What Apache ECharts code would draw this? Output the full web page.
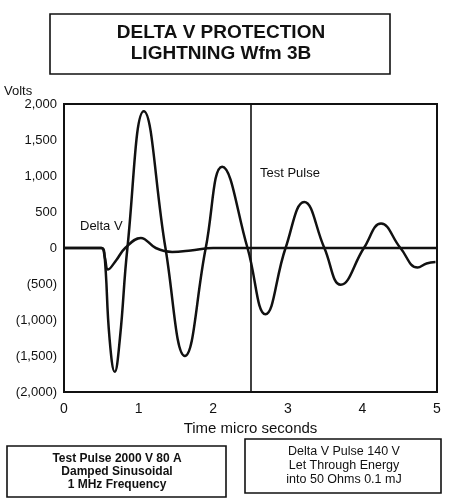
<!DOCTYPE html>
<html>
<head>
<meta charset="utf-8">
<script src="https://cdn.jsdelivr.net/npm/echarts@6/dist/echarts.min.js"></script>
<style>
  html, body { margin: 0; padding: 0; background: #fff; }
  #chart { width: 449px; height: 501px; }
</style>
</head>
<body>
<div id="chart"></div>
<script>
// test pulse trace, time in micro seconds / volts
const pulseTime = [0, 0.50, 0.54, 0.61, 0.68, 0.75, 0.85, 1.07, 1.36, 1.62, 1.90, 2.12, 2.46, 2.70, 2.97, 3.22, 3.49, 3.71, 4.02, 4.25, 4.51, 4.74, 4.86, 4.98];
const pulseVolts = [0, 0, -60, -1250, -1720, -1250, 0, 1900, 0, -1500, 0, 1130, 0, -920, 0, 640, 0, -510, 0, 340, 0, -270, -215, -195];

// delta V trace
const deltaTime = [0, 0.50, 0.545, 0.59, 0.70, 0.82, 1.03, 1.23, 1.45, 1.70, 2.00, 2.50, 5.0];
const deltaVolts = [0, 0, -120, -300, -170, 0, 140, 0, -55, -35, 0, 0, 0];

const yTickLabels = ['(2,000)', '(1,500)', '(1,000)', '(500)', '0', '500', '1,000', '1,500', '2,000'];
const xTickLabels = ['0', '1', '2', '3', '4', '5'];

const font = '"Liberation Sans", Arial, sans-serif';
const ink = '#111';

const chart = echarts.init(document.getElementById('chart'));

const option = {
  backgroundColor: '#fff',
  animation: false,
  grid: {
    left: 64, right: 12, top: 104, bottom: 109,
    show: true, borderColor: ink, borderWidth: 2, backgroundColor: 'transparent'
  },
  xAxis: {
    type: 'value', min: 0, max: 5, interval: 1,
    name: 'Time micro seconds', nameLocation: 'middle', nameGap: 28,
    nameTextStyle: { color: ink, fontFamily: font, fontSize: 15 },
    axisLine: { show: false }, axisTick: { show: false }, splitLine: { show: false },
    axisLabel: {
      color: ink, fontFamily: font, fontSize: 14, margin: 10,
      formatter: v => xTickLabels[Math.round(v)]
    }
  },
  yAxis: {
    type: 'value', min: -2000, max: 2000, interval: 500,
    name: 'Volts', nameLocation: 'end', nameGap: 3,
    nameTextStyle: { color: ink, fontFamily: font, fontSize: 13, align: 'left', padding: [0, 0, 0, -60] },
    axisLine: { show: false }, axisTick: { show: false }, splitLine: { show: false },
    axisLabel: {
      color: ink, fontFamily: font, fontSize: 13, margin: 7,
      formatter: v => yTickLabels[Math.round((v + 2000) / 500)]
    }
  },
  series: [
    {
      name: 'Test Pulse', type: 'line', showSymbol: false,
      smooth: 0.45,
      lineStyle: { color: ink, width: 2.5 },
      data: pulseTime.map((t, i) => [t, pulseVolts[i]]),
      markLine: {
        silent: true, symbol: 'none', label: { show: false },
        lineStyle: { color: ink, width: 1.6, type: 'solid' },
        data: [{ xAxis: 2.5 }]
      }
    },
    {
      name: 'Delta V', type: 'line', showSymbol: false,
      smooth: 0.4,
      lineStyle: { color: ink, width: 2.5 },
      data: deltaTime.map((t, i) => [t, deltaVolts[i]])
    }
  ],
  graphic: [
    { type: 'rect', shape: { x: 50, y: 14, width: 340, height: 60 },
      style: { fill: 'none', stroke: ink, lineWidth: 1.6 } },
    { type: 'text', x: 221, y: 33,
      style: { text: 'DELTA V PROTECTION', font: 'bold 19px ' + font, fill: ink, align: 'center', verticalAlign: 'middle' } },
    { type: 'text', x: 221, y: 54,
      style: { text: 'LIGHTNING Wfm 3B', font: 'bold 19px ' + font, fill: ink, align: 'center', verticalAlign: 'middle' } },

    { type: 'text', x: 80, y: 226,
      style: { text: 'Delta V', font: '13px ' + font, fill: ink, verticalAlign: 'middle' } },
    { type: 'text', x: 260, y: 173,
      style: { text: 'Test Pulse', font: '13px ' + font, fill: ink, verticalAlign: 'middle' } },

    { type: 'rect', shape: { x: 7, y: 446, width: 219, height: 51 },
      style: { fill: 'none', stroke: ink, lineWidth: 1.6 } },
    { type: 'text', x: 117, y: 459,
      style: { text: 'Test Pulse 2000 V 80 A', font: 'bold 12px ' + font, fill: ink, align: 'center', verticalAlign: 'middle' } },
    { type: 'text', x: 117, y: 472,
      style: { text: 'Damped Sinusoidal', font: 'bold 12px ' + font, fill: ink, align: 'center', verticalAlign: 'middle' } },
    { type: 'text', x: 117, y: 485,
      style: { text: '1 MHz Frequency', font: 'bold 12px ' + font, fill: ink, align: 'center', verticalAlign: 'middle' } },

    { type: 'rect', shape: { x: 245, y: 439, width: 196, height: 54 },
      style: { fill: 'none', stroke: ink, lineWidth: 1.6 } },
    { type: 'text', x: 344, y: 452,
      style: { text: 'Delta V Pulse 140 V', font: '12.5px ' + font, fill: ink, align: 'center', verticalAlign: 'middle' } },
    { type: 'text', x: 344, y: 466,
      style: { text: 'Let Through Energy', font: '12.5px ' + font, fill: ink, align: 'center', verticalAlign: 'middle' } },
    { type: 'text', x: 344, y: 480,
      style: { text: 'into 50 Ohms 0.1 mJ', font: '12.5px ' + font, fill: ink, align: 'center', verticalAlign: 'middle' } }
  ]
};

chart.setOption(option);
</script>
</body>
</html>
